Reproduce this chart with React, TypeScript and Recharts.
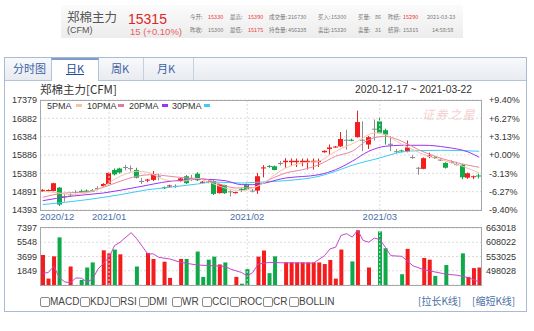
import React from 'react';
import { ComposedChart, Bar, Line, XAxis, YAxis, CartesianGrid, ReferenceLine, Cell } from 'recharts';

const FONT = '"Liberation Sans", Arial, "Noto Sans CJK SC", sans-serif';
const CJK = '"Noto Sans CJK SC", "Liberation Sans", sans-serif';
const RED = '#f41c1c';
const GREEN = '#10a94a';
const GRAY = '#8c8c8c';

// daily candles, one slot per bar
const opens = [
  14900, 14910, 14910, 15000, 14770, 14820, 14880, 14910, 14920, 14925,
  14990, 15040, 15100, 15480, 15520, 15560, 15530, 15480, 15180, 15190,
  15210, 15310, 15010, 15030, 15050, 15180, 15310, 15260, 15380, 15130,
  15140, 15180, 14850, 15070, 14900, 14850, 14960, 15090, 14920, 14920,
  15520, 15590, 15580, 15670, 15690, 15690, 15690, 15690, 15690, 15690,
  15690, 15960, 16050, 16100, 16120, 16300, 16300, 16370, 16300, 16170,
  16600, 16800, 16560, 16190, 15990, 16010, 15990, 15830, 15540, 15510,
  15840, 15830, 15760, 15670, 15700, 15640, 15620, 15270, 15290, 15330,
];
const highs = [
  14960, 14950, 15130, 15020, 14830, 14840, 14930, 14950, 14950, 14960,
  15040, 15120, 15420, 15520, 15540, 15620, 15600, 15540, 15260, 15240,
  15450, 15380, 15030, 15080, 15090, 15280, 15340, 15350, 15420, 15180,
  15190, 15200, 15100, 15080, 14930, 14890, 14990, 15110, 14960, 15400,
  15610, 15610, 15600, 15720, 15800, 15790, 15790, 15790, 15790, 15790,
  15790, 16010, 16170, 16130, 16510, 16570, 16330, 17090, 16800, 16400,
  16850, 16900, 16600, 16400, 16050, 16030, 16280, 15880, 15560, 15820,
  15950, 15850, 15800, 15690, 15740, 15700, 15640, 15410, 15330, 15380,
];
const lows = [
  14890, 14900, 14900, 14500, 14620, 14760, 14840, 14870, 14870, 14880,
  14930, 15020, 15090, 15330, 15380, 15470, 15440, 15250, 15100, 15150,
  15180, 15200, 14960, 15010, 14990, 15150, 15100, 15180, 15180, 15120,
  15120, 14800, 14840, 14830, 14760, 14840, 14880, 14930, 14870, 14830,
  15280, 15540, 15470, 15600, 15540, 15600, 15560, 15580, 15490, 15490,
  15560, 15950, 15900, 16080, 16100, 16030, 16260, 16360, 15990, 16050,
  16280, 16460, 16170, 15990, 15930, 15960, 15960, 15780, 15350, 15500,
  15800, 15780, 15720, 15520, 15660, 15600, 15230, 15240, 15230, 15250,
];
const closes = [
  14940, 14935, 15120, 14540, 14770, 14800, 14880, 14890, 14890, 14895,
  14990, 15100, 15400, 15360, 15410, 15560, 15530, 15270, 15180, 15220,
  15370, 15310, 14985, 15060, 15050, 15250, 15120, 15260, 15200, 15160,
  15170, 14830, 15090, 14850, 14900, 14880, 14950, 14940, 14920, 15310,
  15550, 15570, 15480, 15670, 15730, 15730, 15730, 15730, 15730, 15730,
  15730, 16000, 16090, 16115, 16320, 16300, 16280, 16780, 16300, 16370,
  16600, 16490, 16440, 16190, 15990, 15990, 16090, 15830, 15540, 15800,
  15870, 15810, 15760, 15540, 15700, 15640, 15280, 15390, 15310, 15315,
];
const volumes = [
  3900, 830, 3720, 6180, null, 2400, null, 660, 2270, 2930,
  null, 4500, 4110, 4600, 3980, null, null, 2400, null, 4160,
  3380, null, 3020, 920, null, 3380, 3380, null, 4340, 1050,
  3290, 3680, 2670, 2930, null, 1050, 170, 2060, null, 3680,
  4470, 1540, 3720, null, 2930, 2930, 2930, 2930, 2930, 2930,
  2930, 2720, 3250, 830, 4600, null, 3060, 7100, null, 2270,
  null, 6960, 4770, null, null, 1400, 4690, null, null, 3510,
  3290, 1180, null, 2590, null, null, 4110, 1050, 2190, 2270,
];
const volColors = [
  'r', 'r', 'r', 'g', '', 'r', '', 'g', 'g', 'g',
  '', 'r', 'r', 'g', 'r', '', '', 'g', '', 'r',
  'r', '', 'r', 'r', '', 'r', 'g', '', 'g', 'g',
  'g', 'g', 'r', 'g', '', 'r', 'g', 'g', '', 'r',
  'r', 'g', 'g', '', 'r', 'r', 'r', 'r', 'r', 'r',
  'r', 'r', 'r', 'r', 'r', '', 'g', 'r', '', 'r',
  '', 'g', 'g', '', '', 'g', 'r', '', '', 'r',
  'r', 'g', '', 'g', '', '', 'g', 'r', 'r', 'r',
];

// moving averages: [slot, value]
const ma5 = [[0, 14900], [3, 14855], [5, 14808], [8, 14855], [11, 15037], [14, 15308], [17, 15444], [19, 15416], [22, 15216], [25, 15172], [28, 15244], [30, 15154], [33, 14990], [36, 14917], [38, 14990], [40, 15126], [42, 15352], [44, 15534], [47, 15670], [50, 15716], [52, 15895], [54, 16058], [57, 16259], [59, 16438], [60, 16484], [62, 16438], [64, 16259], [67, 16031], [69, 15895], [72, 15760], [76, 15580], [79, 15400]];
const ma10 = [[0, 14738], [4, 14855], [8, 14882], [11, 15010], [14, 15172], [17, 15308], [20, 15352], [23, 15308], [26, 15262], [29, 15244], [32, 15099], [35, 14990], [38, 15000], [41, 15216], [44, 15398], [47, 15488], [50, 15623], [53, 15851], [56, 15987], [59, 16303], [62, 16395], [63, 16367], [65, 16259], [68, 16031], [71, 15851], [74, 15716], [77, 15607], [79, 15553]];
const ma20 = [[0, 14646], [5, 14765], [11, 14855], [17, 15010], [23, 15172], [29, 15227], [33, 15190], [36, 15081], [38, 15081], [44, 15262], [50, 15352], [53, 15488], [56, 15716], [59, 15987], [62, 16123], [65, 16150], [69, 16150], [73, 16096], [77, 15968], [79, 15824]];
const ma30 = [[0, 14540], [8, 14673], [14, 14808], [19, 14944], [23, 15010], [28, 15099], [31, 15153], [36, 15126], [38, 15140], [44, 15190], [50, 15308], [53, 15444], [56, 15607], [61, 15805], [65, 15968], [68, 16004], [72, 16014], [76, 16004], [79, 15987]];
const openInterest = [[0, 488700], [1, 491000], [2, 514500], [3, 471500], [4, 454700], [5, 452000], [6, 470400], [7, 469200], [8, 454700], [9, 465300], [10, 504400], [12, 549700], [13, 595400], [14, 608300], [16, 645000], [17, 621600], [19, 563000], [20, 563000], [21, 549700], [23, 543400], [25, 530200], [28, 520000], [31, 517300], [33, 514500], [34, 504400], [36, 491100], [37, 478200], [38, 491100], [39, 523900], [41, 530200], [43, 529000], [49, 527500], [51, 556300], [52, 582500], [53, 588800], [54, 634500], [55, 641100], [56, 627800], [57, 654000], [58, 614900], [59, 608300], [60, 623900], [61, 618800], [62, 588800], [63, 556300], [65, 553600], [67, 517300], [69, 501600], [70, 497700], [73, 484800], [75, 480900], [77, 471600], [79, 454700]];

const priceTicks = [14393, 14891, 15388, 15886, 16384, 16882, 17379];
const pctLabels = ['-9.40%', '-6.27%', '-3.13%', '+0.00%', '+3.13%', '+6.27%', '+9.40%'];
const volTicks = [1849, 3699, 5548, 7397];
const oiTicks = [498028, 553025, 608022, 663018];
const monthIdx = [0, 12, 37, 61];
const monthLabels = ['2020/12', '2021/01', '2021/02', '2021/03'];

const byIndex = (pairs: number[][]) => {
  const m: Record<number, number> = {};
  pairs.forEach(([i, v]) => { m[i] = v; });
  return m;
};
const m5 = byIndex(ma5), m10 = byIndex(ma10), m20 = byIndex(ma20), m30 = byIndex(ma30), oiMap = byIndex(openInterest);

const rows = opens.map((o, i) => ({
  i,
  o,
  h: highs[i],
  l: lows[i],
  c: closes[i],
  range: [lows[i], highs[i]],
  vol: volumes[i],
  vc: volColors[i],
  m5: m5[i] ?? null,
  m10: m10[i] ?? null,
  m20: m20[i] ?? null,
  m30: m30[i] ?? null,
  oi: oiMap[i] ?? null,
}));

const Candle = (props: any) => {
  const { x, y, width, height, payload } = props;
  if (!payload || x == null) return null;
  const { o, h, l, c } = payload;
  const top = Math.min(y, y + height);
  const hh = Math.abs(height);
  const py = (v: number) => top + ((h - v) / (h - l)) * hh;
  const color = c > o ? RED : c < o ? GREEN : GRAY;
  const cx = Math.floor(x + width / 2);
  const bt = py(Math.max(o, c));
  const bb = py(Math.min(o, c));
  return (
    <g>
      <line x1={cx + 0.5} x2={cx + 0.5} y1={top} y2={top + hh} stroke={color} strokeWidth={1} />
      <rect x={cx - 2} y={bt} width={5} height={Math.max(1, bb - bt)} fill={color} />
    </g>
  );
};

const MonthTick = (p: any) => {
  const k = monthIdx.indexOf(p.payload.value);
  const first = k === 0;
  return (
    <text x={first ? 40 : p.x} y={p.y} dy={10} textAnchor={first ? 'start' : 'middle'} fontSize={9.5} fill="#4a6fa8">
      {monthLabels[k]}
    </text>
  );
};

const Txt = ({ x, y, s, c, f, children, style }: any) => (
  <div style={{ position: 'absolute', left: x, top: y, fontSize: s, color: c, lineHeight: 1, whiteSpace: 'nowrap', fontFamily: f || FONT, ...style }}>
    {children}
  </div>
);

const stats1 = [
  [190, '今开:', '#777'], [208, '15330', '#e33'], [230, '最高:', '#777'], [248, '15390', '#e33'],
  [269, '成交量:', '#777'], [288, '216730', '#777'], [318, '买入:', '#777'], [331, '15300', '#777'],
  [358, '买量:', '#777'], [375, '86', '#777'], [388, '昨结:', '#777'], [403, '15290', '#e33'], [427, '2021-03-23', '#777'],
];
const stats2 = [
  [190, '昨收:', '#777'], [208, '15300', '#777'], [230, '最低:', '#777'], [248, '15175', '#e33'],
  [269, '持仓量:', '#777'], [288, '456238', '#777'], [318, '卖出:', '#777'], [331, '15320', '#777'],
  [358, '卖量:', '#777'], [375, '31', '#777'], [388, '结算:', '#777'], [403, '15315', '#777'], [432, '14:58:58', '#777'],
];

const legend = [
  ['5PMA', 47, 76, '#f6c3a6'],
  ['10PMA', 87, 118, '#e37a9c'],
  ['20PMA', 129, 162, '#9d33f2'],
  ['30PMA', 172, 204, '#3cccf5'],
];

const indicators = [
  ['MACD', 40], ['KDJ', 80], ['RSI', 110], ['DMI', 139], ['WR', 172], ['CCI', 202], ['ROC', 230], ['CR', 263], ['BOLLIN', 289],
];

export default function App() {
  return (
    <div style={{ position: 'absolute', left: 0, top: 0, width: 534, height: 331, background: '#fff', fontFamily: FONT }}>
      {/* quote header */}
      <div style={{ position: 'absolute', left: 61, top: 5, width: 402, height: 33, background: 'linear-gradient(#fbfbfb, #ececec)' }} />
      <Txt x={67} y={11} s={12.5} c="#555" f={CJK}>郑棉主力</Txt>
      <Txt x={67} y={26} s={9} c="#555">(CFM)</Txt>
      <Txt x={128} y={12} s={14} c="#e02424">15315</Txt>
      <Txt x={130} y={27} s={9.5} c="#e86060">15 (+0.10%)</Txt>
      {stats1.map(([x, t, c], k) => (
        <Txt key={'a' + k} x={x} y={14.5} s={5.5} c={c} f={CJK}>{t}</Txt>
      ))}
      {stats2.map(([x, t, c], k) => (
        <Txt key={'b' + k} x={x} y={27.5} s={5.5} c={c} f={CJK}>{t}</Txt>
      ))}

      {/* panel with tabs */}
      <div style={{ position: 'absolute', left: 4, top: 57, width: 523, height: 255, border: '1px solid #a9bad3', boxSizing: 'border-box' }} />
      <div style={{ position: 'absolute', left: 5, top: 58, width: 521, height: 22, background: 'linear-gradient(#f8f9fb, #e8ebf0)', borderBottom: '1px solid #b4c2d8' }} />
      <div style={{ position: 'absolute', left: 51, top: 58, width: 48, height: 23, background: '#fff', borderLeft: '1px solid #b4c2d8', borderRight: '1px solid #b4c2d8', borderTop: '2px solid #7d9ccc', boxSizing: 'border-box' }} />
      <div style={{ position: 'absolute', left: 143, top: 58, width: 1, height: 22, background: '#c5cfde' }} />
      <div style={{ position: 'absolute', left: 193, top: 58, width: 1, height: 22, background: '#c5cfde' }} />
      <Txt x={13} y={63} s={11} c="#3a62a6" f={CJK}>分时图</Txt>
      <Txt x={66} y={63} s={11} c="#1f4e9c" f={CJK} style={{ textDecoration: 'underline' }}>日K</Txt>
      <Txt x={111} y={63} s={11} c="#3a62a6" f={CJK}>周K</Txt>
      <Txt x={157} y={63} s={11} c="#3a62a6" f={CJK}>月K</Txt>

      <Txt x={40} y={84} s={11.5} c="#333" f={CJK}>郑棉主力[CFM]</Txt>
      <Txt x={355} y={85} s={10.3} c="#333">2020-12-17 ~ 2021-03-22</Txt>

      {/* price chart */}
      <div style={{ position: 'absolute', left: 0, top: 90 }}>
        <ComposedChart width={534} height={134} data={rows} margin={{ top: 10, right: 0, bottom: 0, left: 0 }}>
          <CartesianGrid vertical={false} stroke="#dcdcdc" strokeDasharray="2 2" />
          <XAxis dataKey="i" ticks={monthIdx} interval={0} tick={<MonthTick />} tickLine={false} axisLine={false} tickSize={0} tickMargin={0} height={14} />
          <YAxis domain={[14393, 17379]} ticks={priceTicks} interval={0} width={40} tickLine={false} axisLine={false} tickSize={0} tickMargin={3} tick={{ fontSize: 9, fill: '#333' }} allowDataOverflow />
          <YAxis yAxisId="pct" orientation="right" domain={[14393, 17379]} ticks={priceTicks} interval={0} width={52} tickLine={false} axisLine={false} tickSize={0} tickMargin={7} tick={{ fontSize: 9, fill: '#333', textAnchor: 'start' }} tickFormatter={(v: number) => pctLabels[priceTicks.indexOf(v)]} allowDataOverflow />
          {monthIdx.slice(1).map((m) => (
            <ReferenceLine key={m} x={m} stroke="#dcdcdc" strokeDasharray="2 2" />
          ))}
          <Line dataKey="m30" stroke="#3cccf5" strokeWidth={1} dot={false} connectNulls type="monotone" isAnimationActive={false} />
          <Line dataKey="m20" stroke="#9d33f2" strokeWidth={1} dot={false} connectNulls type="monotone" isAnimationActive={false} />
          <Line dataKey="m10" stroke="#e8869f" strokeWidth={1} dot={false} connectNulls type="monotone" isAnimationActive={false} />
          <Line dataKey="m5" stroke="#f6c3a6" strokeWidth={1} dot={false} connectNulls type="monotone" isAnimationActive={false} />
          <Bar dataKey="range" barSize={5} isAnimationActive={false} shape={(p: any) => <Candle {...p} />} />
        </ComposedChart>
      </div>
      <div style={{ position: 'absolute', left: 40, top: 100, width: 442, height: 111, border: '1px solid #a8a8a8', boxSizing: 'border-box' }} />
      <Txt x={422} y={108} s={12} c="#f4c4c4" f={CJK} style={{ letterSpacing: 1.5, fontStyle: 'italic', opacity: 0.8 }}>证券之星</Txt>
      {legend.map(([t, x, sx, c]) => (
        <React.Fragment key={t as string}>
          <Txt x={x} y={102} s={9} c="#333">{t}</Txt>
          <div style={{ position: 'absolute', left: sx as number, top: 104, width: 6, height: 2.5, background: c as string }} />
        </React.Fragment>
      ))}

      {/* volume chart */}
      <div style={{ position: 'absolute', left: 0, top: 224 }}>
        <ComposedChart width={534} height={65} data={rows} margin={{ top: 4, right: 0, bottom: 4, left: 0 }}>
          <CartesianGrid vertical={false} stroke="#dcdcdc" strokeDasharray="2 2" />
          <XAxis dataKey="i" hide />
          <YAxis domain={[0, 7397]} ticks={volTicks} interval={0} width={40} tickLine={false} axisLine={false} tickSize={0} tickMargin={3} tick={{ fontSize: 9, fill: '#333' }} allowDataOverflow />
          <YAxis yAxisId="oi" orientation="right" domain={[443031, 663018]} ticks={oiTicks} interval={0} width={52} tickLine={false} axisLine={false} tickSize={0} tickMargin={4} tick={{ fontSize: 9, fill: '#333', textAnchor: 'start' }} allowDataOverflow />
          {monthIdx.slice(1).map((m) => (
            <ReferenceLine key={m} x={m} stroke="#dcdcdc" strokeDasharray="2 2" />
          ))}
          <Bar dataKey="vol" barSize={4} isAnimationActive={false}>
            {rows.map((r) => (
              <Cell key={r.i} fill={r.vc === 'g' ? GREEN : RED} />
            ))}
          </Bar>
          <Line yAxisId="oi" dataKey="oi" stroke="#c449c9" strokeWidth={1} dot={false} connectNulls type="linear" isAnimationActive={false} />
        </ComposedChart>
      </div>
      <div style={{ position: 'absolute', left: 40, top: 227, width: 442, height: 59, border: '1px solid #a8a8a8', boxSizing: 'border-box' }} />

      {/* indicator switches */}
      {indicators.map(([t, x]) => (
        <React.Fragment key={t as string}>
          <div style={{ position: 'absolute', left: x as number, top: 297, width: 10, height: 10, border: '1px solid #8a8a8a', borderRadius: 2, boxSizing: 'border-box', background: '#fff' }} />
          <Txt x={(x as number) + 10} y={297} s={10} c="#444">{t}</Txt>
        </React.Fragment>
      ))}
      <Txt x={418} y={296} s={10} c="#4a6fa5" f={CJK}>[拉长K线]</Txt>
      <Txt x={472} y={296} s={10} c="#4a6fa5" f={CJK}>[缩短K线]</Txt>
    </div>
  );
}
